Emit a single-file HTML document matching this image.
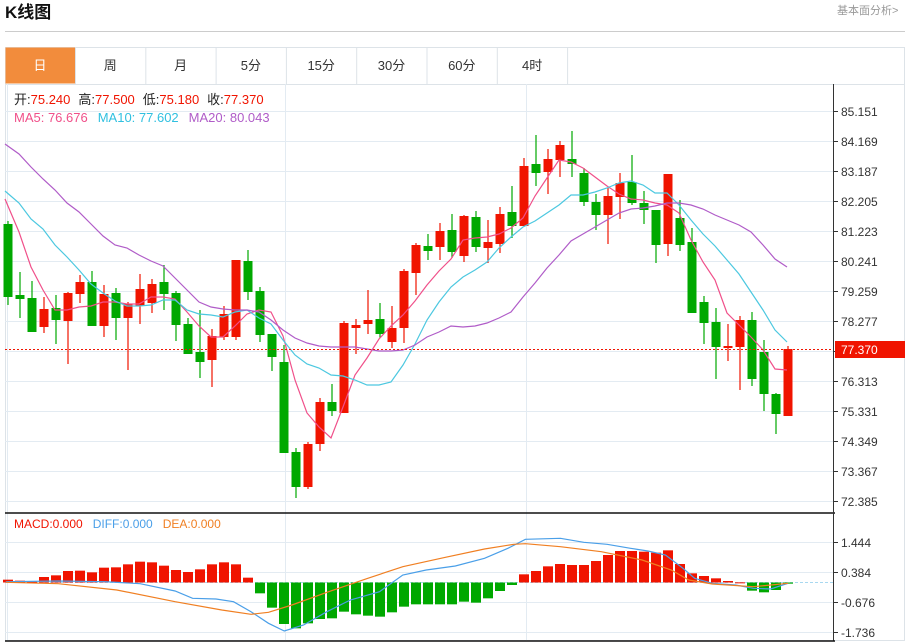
<!DOCTYPE html>
<html><head><meta charset="utf-8"><style>
body{margin:0;background:#fff;font-family:"Liberation Sans","Noto Sans CJK SC",sans-serif;}
#w{position:relative;width:911px;height:644px;overflow:hidden;}
</style></head><body><div id="w">
<svg id="s" width="911" height="644" xmlns="http://www.w3.org/2000/svg" style="position:absolute;left:0;top:0;font-family:'Liberation Sans','Noto Sans CJK SC',sans-serif"></svg>
</div>
<script>
var s=document.getElementById('s'),h='';
function L(x1,y1,x2,y2,c,w,d){h+='<line x1="'+x1+'" y1="'+y1+'" x2="'+x2+'" y2="'+y2+'" stroke="'+c+'" stroke-width="'+(w||1)+'"'+(d?' stroke-dasharray="'+d+'"':'')+'/>';}
function R(x,y,w,hh,c,st){h+='<rect x="'+x+'" y="'+y+'" width="'+w+'" height="'+hh+'" fill="'+c+'"'+(st?' stroke="'+st+'"':'')+'/>';}
function T(x,y,t,c,sz,extra){h+='<text x="'+x+'" y="'+y+'" fill="'+c+'" font-size="'+sz+'" '+(extra||'')+'>'+t+'</text>';}
function P(pts,c,w){h+='<polyline fill="none" stroke="'+c+'" stroke-width="'+(w||1.2)+'" points="'+pts.map(function(p){return p[0]+','+p[1]}).join(' ')+'"/>';}
// header
T(5,18,'K线图','#111',17,'font-weight="bold"');
T(837,14,'基本面分析&gt;','#999',11);
L(5,31.5,905,31.5,'#ccc',1);
// frame
R(5.5,47.5,899,593,'none','#dde3e8');
// tabs
var tabs=['日','周','月','5分','15分','30分','60分','4时'];
for(var i=0;i<8;i++){var x=5+70.3*i;
 if(i==0)R(x+0.5,47.5,70,36,'#f28c3c');
 L(x+70.5,47,x+70.5,84,'#dde3e8');
 T(x+35,70,tabs[i],i==0?'#fff':'#333',13,'text-anchor="middle"');}
L(5,84.5,905,84.5,'#dde3e8');
// grid
for(var k=0;k<14;k++){var y=111+30*k;L(5,y+.5,833,y+.5,'#e3ebf2');L(833,y+.5,838,y+.5,'#333');
 T(841,y+5,(85.151-0.982*k).toFixed(3),'#333',12);}
L(285.5,84,285.5,641,'#e3ebf2');L(526.5,84,526.5,641,'#e3ebf2');L(7.5,84,7.5,641,'#e3ebf2');
[542,572,602,632].forEach(function(y,i){L(5,y+.5,833,y+.5,'#e3ebf2');L(833,y+.5,838,y+.5,'#333');T(841,y+5,['1.444','0.384','-0.676','-1.736'][i],'#333',12);});
L(5,582.5,833,582.5,'#a8d8f0',1,'3,2');
// candles
var C=[[0,'g',224,297,221,305],[1,'g',295,299,272,318],[2,'g',298,332,281,332],[3,'r',309,327,297,333],[4,'g',308,320,295,344],[5,'r',293,321,292,364],[6,'r',282,294,275,303],[7,'g',282,326,271,326],[8,'r',294,326,285,337],[9,'g',293,318,288,340],[10,'r',304,318,302,370],[11,'r',289,306,274,324],[12,'r',284,303,279,313],[13,'g',282,294,265,310],[14,'g',293,325,291,341],[15,'g',324,354,318,354],[16,'g',352,362,310,378],[17,'r',336,360,329,387],[18,'r',314,337,306,340],[19,'r',260,337,260,340],[20,'g',261,292,250,300],[21,'g',291,335,287,342],[22,'g',334,357,334,371],[23,'g',362,453,345,453],[24,'g',452,487,448,498],[25,'r',444,487,442,489],[26,'r',402,444,398,451],[27,'g',402,411,384,416],[28,'r',323,413,321,413],[29,'r',325,328,319,354],[30,'r',320,324,290,334],[31,'g',319,334,303,338],[32,'r',328,342,306,348],[33,'r',271,328,269,343],[34,'r',245,273,243,295],[35,'g',246,251,234,260],[36,'r',231,247,223,260],[37,'g',230,252,214,258],[38,'r',216,256,215,262],[39,'g',217,247,211,252],[40,'r',242,248,220,263],[41,'r',214,244,207,253],[42,'g',212,226,186,238],[43,'r',166,226,158,226],[44,'g',164,173,135,186],[45,'r',159,172,149,194],[46,'r',145,160,141,177],[47,'g',159,164,131,177],[48,'g',173,202,168,206],[49,'g',202,215,194,230],[50,'r',196,215,188,244],[51,'r',183,197,173,219],[52,'g',182,203,155,205],[53,'g',203,210,191,224],[54,'g',210,245,210,263],[55,'r',174,244,174,256],[56,'g',218,245,200,251],[57,'g',242,313,228,313],[58,'g',302,323,296,344],[59,'g',322,347,308,379],[60,'r',346,348,324,361],[61,'r',320,347,316,390],[62,'g',320,379,312,386],[63,'g',352,394,340,411],[64,'g',394,414,393,434],[65,'r',349,416,346,416]];
C.forEach(function(c){var x=8+12*c[0],col=c[1]=='r'?'#f01400':'#00a800';
 L(x,c[4],x,c[5],col,1.2);R(x-4.5,c[2],9,Math.max(2,c[3]-c[2]),col);});
// MAs
var xs=function(a){return a.map(function(v,i){return [i==0?5:7+12*i,v]});};
P(xs([199,232,267,290,310,310,307,306,302,302,304,304,297,297,299,312,326,337,337,326,314,310,312,336,380,413,427,438,407,375,358,339,326,315,301,285,271,259,240,238,237,234,228,218,196,178,160,162,168,177,186,194,199,200,203,205,213,240,262,280,313,325,337,350,369,370]),'#f0508a');
P(xs([191,203,219,229,245,257,270,284,293,301,306,306,305,300,300,310,314,315,317,312,310,318,324,340,355,364,368,375,376,380,385,385,382,365,344,320,302,287,277,270,262,248,237,227,221,213,205,195,195,192,188,183,181,185,193,193,205,220,234,246,260,274,292,310,330,342]),'#4cc8e0');
P(xs([144,154,167,179,190,203,212,224,236,245,248,255,261,266,278,290,302,307,309,310,310,312,320,330,338,343,346,347,347,347,349,351,351,350,345,337,332,326,327,326,323,318,312,297,283,268,255,241,234,227,220,213,209,208,206,203,203,205,209,215,220,225,232,245,259,267]),'#b05cc8');
// current price
L(5,349.5,833,349.5,'#f01400',1,'2,2');
R(835,341,70,17,'#f01400');T(841,354,'77.370','#fff',12);
// main/macd separators & axis
L(5,513,835,513,'#111',1.5);L(833.5,84,833.5,641,'#333');L(5,641,835,641,'#111',1.5);
// MACD bars
var M=[224,227,230,216,211,198,197,202,188,187,178,170,172,182,195,201,193,178,172,178,218,265,308,357,370,355,342,340,320,328,332,335,322,305,298,298,298,298,290,293,280,258,240,208,198,184,177,180,180,168,150,138,138,140,143,136,177,205,213,220,228,232,257,262,255,236];
M.forEach(function(v,i){var y=505+v/3,x=8+12*i,z=582.5;var col=y<z?'#f01400':'#00a800';R(x-5,Math.min(y,z),10,Math.max(1,Math.abs(y-z)),col);});
var cv=function(a){return a.map(function(p){return [(p[0]/1.713).toFixed(1),(505+p[1]/3).toFixed(1)]})};
P(cv([[10,230],[100,228],[180,230],[240,236],[300,258],[330,280],[370,282],[400,290],[430,320],[460,355],[487,378],[520,360],[560,320],[600,285],[650,260],[690,210],[730,195],[780,183],[830,160],[870,130],[900,103],[960,100],[1000,112],[1040,118],[1080,130],[1110,138],[1140,150],[1170,190],[1190,220],[1220,235],[1260,240],[1290,250],[1320,252],[1350,235]]),'#4a9fe8');
P(cv([[10,232],[100,236],[200,255],[300,290],[380,315],[430,328],[460,322],[500,300],[560,262],[630,220],[690,185],[760,158],[830,132],[880,118],[900,116],[960,125],[1030,140],[1100,165],[1150,195],[1180,225],[1220,237],[1290,245],[1350,235]]),'#f07f22');
// labels
h+='<text x="14" y="104" font-size="13"><tspan fill="#222">开:</tspan><tspan fill="#f01400">75.240</tspan><tspan fill="#222" dx="8">高:</tspan><tspan fill="#f01400">77.500</tspan><tspan fill="#222" dx="8">低:</tspan><tspan fill="#f01400">75.180</tspan><tspan fill="#222" dx="8">收:</tspan><tspan fill="#f01400">77.370</tspan></text>';
h+='<text x="14" y="122" font-size="13"><tspan fill="#f0508a">MA5: 76.676</tspan><tspan fill="#30c0e0" dx="10">MA10: 77.602</tspan><tspan fill="#b05cc8" dx="10">MA20: 80.043</tspan></text>';
h+='<text x="14" y="528" font-size="12"><tspan fill="#f01400">MACD:0.000</tspan><tspan fill="#4a9fe8" dx="10">DIFF:0.000</tspan><tspan fill="#f07f22" dx="10">DEA:0.000</tspan></text>';
s.innerHTML=h;
</script></body></html>
